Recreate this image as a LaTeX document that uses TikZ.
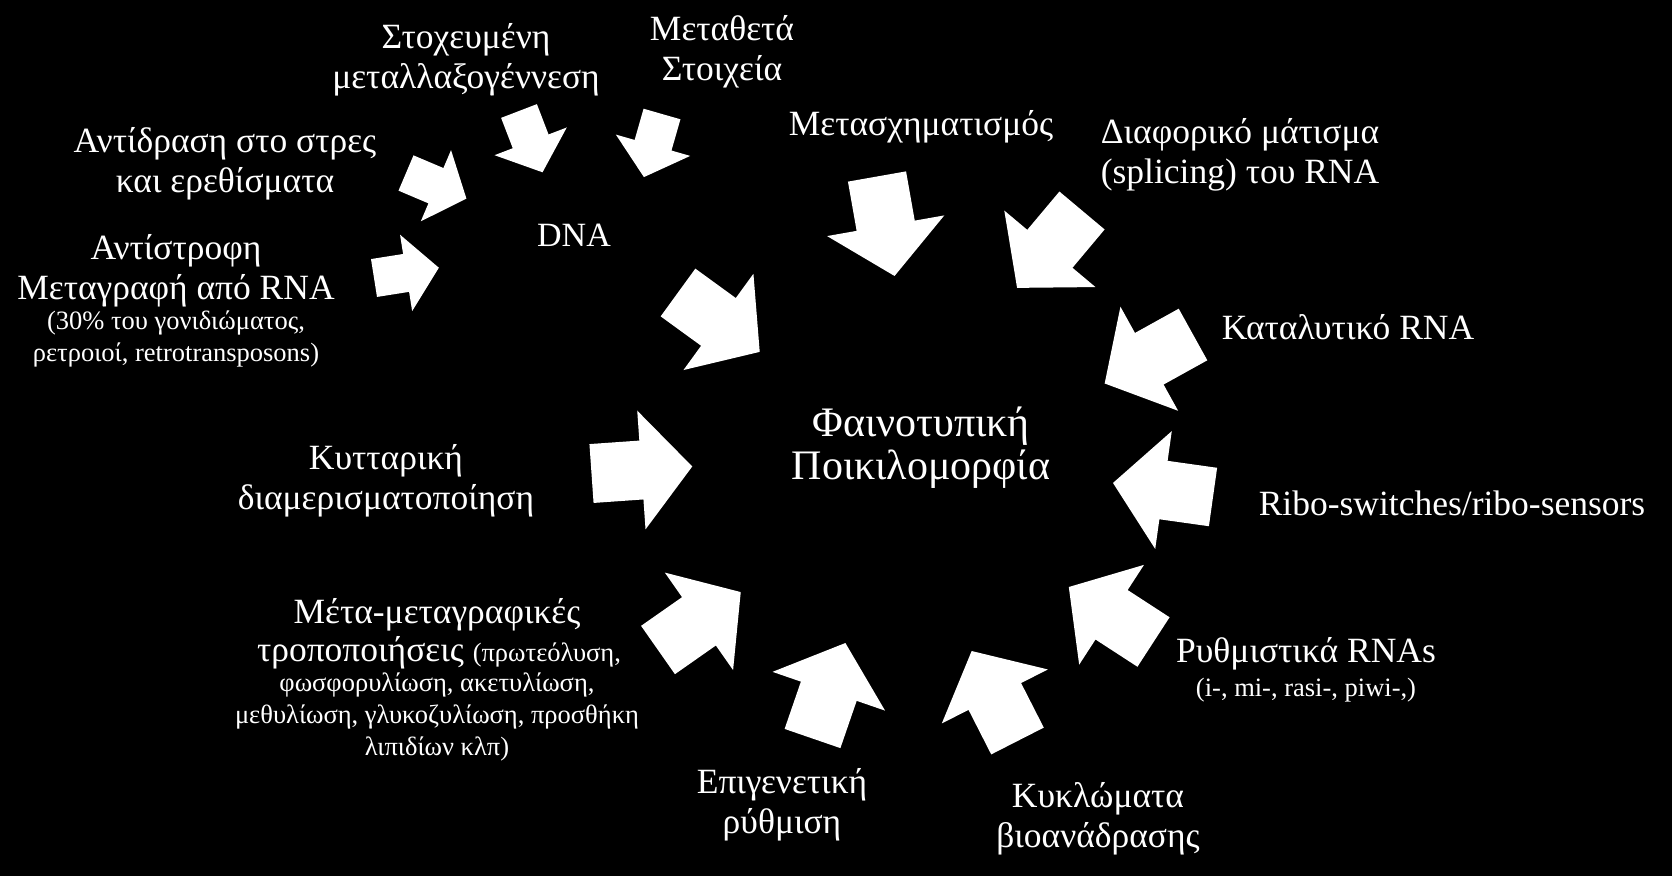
\documentclass[tikz,border=0pt]{standalone}
\usepackage{fontspec}
\setmainfont{Liberation Serif}
\newcommand{\lblfont}{\fontsize{35.5}{40}\selectfont}
\newcommand{\notefont}{\fontsize{26.5}{32}\selectfont}
\newcommand{\centrefont}{\fontsize{42}{43}\selectfont}

\begin{document}
\begin{tikzpicture}[x=1pt, y=-1pt,
    lbl/.style={font=\lblfont, text=white, align=center, inner sep=0pt},
    note/.style={font=\notefont, text=white, align=center, inner sep=0pt},
    blockarrow/.pic={\fill[white] (0,-29.5) -- (50,-29.5) -- (50,-59.5)
        -- (101,0) -- (50,59.5) -- (50,29.5) -- (0,29.5) -- cycle;},
]

% --- Background ---
\fill[black] (0,0) rectangle (1672,876);
\useasboundingbox (0,0) rectangle (1672,876);

% --- Centre labels ---
\node[lbl, font=\fontsize{34}{40}\selectfont] (dna) at (574,235) {DNA};
\node[lbl, font=\centrefont] (pheno) at (921,448) {Φαινοτυπική\\Ποικιλομορφία};

% --- Labels around DNA ---
\node[lbl] (stoch) at (466,60) {Στοχευμένη\\μεταλλαξογέννεση};
\node[lbl] (transp) at (722,52) {Μεταθετά\\Στοιχεία};
\node[lbl] (stress) at (225,164) {Αντίδραση στο στρες\\και ερεθίσματα};
\node[lbl] (revtr) at (176,271) {Αντίστροφη\\Μεταγραφή από RNA};
\node[note] (revtrn) at (176,339) {(30\% του γονιδιώματος,\\ρετροιοί, retrotransposons)};

% --- Labels around the phenotype ---
\node[lbl] (transf) at (921,127) {Μετασχηματισμός};
\node[lbl] (splice) at (1240,155) {Διαφορικό μάτισμα\\(splicing) του RNA};
\node[lbl] (catal) at (1348,327) {Καταλυτικό RNA};
\node[lbl] (ribo) at (1452,503) {Ribo-switches/ribo-sensors};
\node[lbl] (regul) at (1306,654) {Ρυθμιστικά RNAs};
\node[note] (reguln) at (1306,690) {(i-, mi-, rasi-, piwi-,)};
\node[lbl] (circ) at (1098,819) {Κυκλώματα\\βιοανάδρασης};
\node[lbl] (epig) at (782,805) {Επιγενετική\\ρύθμιση};
\node[lbl] (post) at (437,615) {Μέτα-μεταγραφικές};
\node[lbl] (post2) at (439,653) {τροποποιήσεις {\notefont (πρωτεόλυση,}};
\node[note] (postn) at (437,717) {φωσφορυλίωση, ακετυλίωση,\\μεθυλίωση, γλυκοζυλίωση, προσθήκη\\λιπιδίων κλπ)};
\node[lbl] (compart) at (386,481) {Κυτταρική\\διαμερισματοποίηση};

% --- Small arrows into DNA ---
\pic[rotate=-69, scale=0.65] at (519,111) {blockarrow};
\pic[rotate=-106, scale=0.65] at (662,114) {blockarrow};
\pic[rotate=-23, scale=0.65] at (406,173) {blockarrow};
\pic[rotate=9, scale=0.65] at (374,278) {blockarrow};

% --- Big arrows into the phenotype ---
\pic[rotate=-36] at (678,292.5) {blockarrow};
\pic[rotate=-80] at (877,176.5) {blockarrow};
\pic[rotate=-130] at (1082,210.5) {blockarrow};
\pic[rotate=-151] at (1193,334.5) {blockarrow};
\pic[rotate=172] at (1213,497) {blockarrow};
\pic[rotate=147] at (1153.5,642) {blockarrow};
\pic[rotate=117] at (1017.5,741) {blockarrow};
\pic[rotate=71] at (812.5,738.5) {blockarrow};
\pic[rotate=35] at (658,650) {blockarrow};
\pic[rotate=4] at (591.5,473.5) {blockarrow};

\end{tikzpicture}
\end{document}
